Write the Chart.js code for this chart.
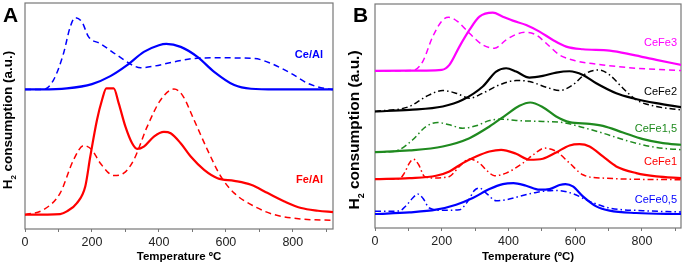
<!DOCTYPE html>
<html>
<head>
<meta charset="utf-8">
<script src="https://cdn.jsdelivr.net/npm/chart.js@4/dist/chart.umd.min.js"></script>
<style>
  html,body{margin:0;padding:0;background:#fff;}
  #wrap{position:relative;width:686px;height:267px;overflow:hidden;}
  .pane{position:absolute;top:0;width:343px;height:267px;}
</style>
</head>
<body>
<div id="wrap">
  <div class="pane" style="left:0"><canvas id="chartA" width="343" height="267"></canvas></div>
  <div class="pane" style="left:343px"><canvas id="chartB" width="343" height="267"></canvas></div>
</div>
<script>
// ---- data: [temperature °C, signal a.u.] ----
const ceAlSolid = [[0,420],[50,420],[125,423],[200,436],[255,460],[305,493],[355,533],[400,553],[422,557],[465,548],[515,518],[565,473],[625,433],[675,422],[750,420],[920,420]];
const ceAlDash = [[0,420],[55,420],[85,448],[115,528],[135,608],[150,636],[170,623],[190,578],[225,558],[275,523],[325,491],[345,485],[385,490],[445,503],[505,513],[575,515],[685,513],[735,498],[795,468],[845,438],[895,423],[920,420]];
const feAlSolid = [[0,43],[105,45],[125,53],[155,78],[180,128],[195,218],[215,328],[230,388],[243,423],[265,423],[280,378],[300,308],[320,258],[335,241],[355,248],[385,278],[415,292],[435,288],[465,258],[495,218],[535,178],[575,153],[625,145],[675,133],[725,108],[775,83],[825,63],[875,55],[920,51]];
const feAlDash = [[0,43],[55,58],[105,108],[145,208],[175,251],[200,238],[225,198],[265,161],[295,168],[325,208],[365,308],[405,388],[445,421],[470,403],[505,328],[545,238],[585,158],[625,108],[685,68],[745,43],[825,30],[920,26]];

const ceFe3Solid = [[0,472],[150,473],[200,475],[223,490],[253,545],[283,595],[313,635],[353,647],[383,635],[413,623],[453,610],[493,590],[533,565],[573,545],[623,537],[703,533],[773,520],[843,505],[918,490]];
const ceFe3Dash = [[0,472],[113,473],[143,500],[173,575],[203,625],[221,633],[248,620],[283,585],[323,550],[358,540],[393,565],[423,582],[453,588],[483,580],[513,555],[553,520],[603,502],[683,490],[783,480],[918,473]];
const ceFe2Solid = [[0,350],[103,355],[203,365],[263,385],[323,425],[363,470],[393,480],[423,470],[463,452],[503,457],[543,467],[583,471],[623,460],[663,435],[723,405],[773,390],[843,375],[918,363]];
const ceFe2DashDot = [[0,350],[103,365],[153,395],[203,413],[243,405],[283,390],[323,405],[373,430],[423,443],[463,440],[513,423],[553,413],[593,430],[633,465],[671,475],[703,460],[743,420],[783,385],[843,365],[918,355]];
const ceFe15Solid = [[0,228],[103,233],[203,245],[283,270],[343,305],[393,340],[433,367],[465,377],[503,363],[543,335],[583,318],[643,313],[683,307],[743,287],[803,267],[863,255],[918,250]];
const ceFe15DashDot = [[0,228],[40,229],[73,235],[113,265],[153,305],[188,317],[223,310],[263,300],[303,307],[343,323],[383,327],[423,323],[503,320],[563,317],[623,302],[683,285],[763,260],[843,242],[918,235]];
const ceFe1Solid = [[0,147],[103,150],[183,157],[223,170],[263,195],[303,215],[343,230],[378,235],[423,223],[463,205],[503,208],[543,227],[583,248],[613,252],[643,245],[683,215],[723,185],[783,165],[843,155],[918,150]];
const ceFe1DashDot = [[0,147],[73,148],[88,165],[103,195],[115,207],[131,190],[148,155],[173,150],[223,155],[253,185],[283,207],[313,195],[333,175],[358,157],[393,165],[443,195],[478,223],[508,240],[543,230],[583,195],[623,160],[683,150],[918,145]];
const ceFe05Solid = [[0,42],[103,47],[183,55],[243,70],[293,90],[343,117],[383,132],[415,135],[453,127],[493,115],[523,117],[553,129],[571,132],[593,125],[623,95],[663,65],[703,52],[783,45],[918,42]];
const ceFe05DashDot = [[0,50],[73,51],[93,67],[113,90],[128,102],[143,90],[163,60],[203,53],[253,55],[278,80],[298,113],[313,120],[333,105],[363,82],[393,85],[433,95],[483,107],[543,113],[593,103],[643,80],[703,60],[803,52],[918,48]];

// series labels: [text, x, y, colour] in data units
const labelsA = [['Ce/Al',890,523,'#0000ff'],['Fe/Al',890,148,'#ff0000']];
const labelsB = [['CeFe3',905,556,'#ff00ff'],['CeFe2',905,409,'#000000'],['CeFe1,5',905,298,'#1f8a1f'],['CeFe1',905,199,'#ff0000'],['CeFe0,5',905,85,'#0000ff']];

const FONT = "'Liberation Sans', Arial, sans-serif";
const DASH = [6,4], DASHDOT = [6,3,1.5,3];

function ds(pts, color, dash){
  return {
    data: pts.map(p=>({x:p[0], y:p[1]})),
    borderColor: color, borderWidth: dash ? 1.5 : 2.2, borderDash: dash || [],
    pointRadius: 0, fill: false, cubicInterpolationMode: 'monotone'
  };
}

// frame, panel letter, y title, series labels
const decor = {
  id: 'decor',
  beforeDatasetsDraw(chart, args, o){
    const {ctx, chartArea:a} = chart;
    ctx.save();
    ctx.strokeStyle = '#777'; ctx.lineWidth = 1.2;
    ctx.strokeRect(a.left, a.top, a.right - a.left, a.bottom - a.top);
    ctx.restore();
  },
  afterDatasetsDraw(chart, args, o){
    const {ctx} = chart, sx = chart.scales.x, sy = chart.scales.y;
    ctx.save();
    ctx.fillStyle = '#000';
    ctx.font = `bold 21px ${FONT}`;
    ctx.textBaseline = 'alphabetic'; ctx.textAlign = 'left';
    ctx.fillText(o.letter, o.letterX, 22);

    // rotated y title with subscript 2
    ctx.translate(o.titleX, o.titleY);
    ctx.rotate(-Math.PI/2);
    ctx.textBaseline = 'middle';
    const big = `bold ${o.titleSize}px ${FONT}`, small = `bold ${Math.round(o.titleSize*0.6)}px ${FONT}`;
    ctx.font = big; const wH = ctx.measureText('H').width;
    ctx.font = small; const w2 = ctx.measureText('2').width;
    ctx.font = big; const rest = ' consumption (a.u.)'; const wR = ctx.measureText(rest).width;
    let x0 = -(wH + w2 + wR)/2;
    ctx.fillText('H', x0, 0);
    ctx.font = small; ctx.fillText('2', x0 + wH, o.titleSize*0.4);
    ctx.font = big; ctx.fillText(rest, x0 + wH + w2, 0);
    ctx.setTransform(1,0,0,1,0,0);

    ctx.textAlign = 'right'; ctx.textBaseline = 'middle';
    ctx.font = `${o.labelWeight} 11px ${FONT}`;
    o.labels.forEach(([t,x,y,c])=>{
      ctx.fillStyle = c;
      ctx.fillText(t, sx.getPixelForValue(x), sy.getPixelForValue(y));
    });
    ctx.restore();
  }
};

function makeChart(id, datasets, cfg){
  return new Chart(document.getElementById(id), {
    type: 'line',
    data: { datasets },
    plugins: [decor],
    options: {
      responsive: false, animation: false, devicePixelRatio: 1,
      layout: { padding: cfg.padding },
      plugins: { legend: {display:false}, tooltip: {enabled:false}, decor: cfg.decor },
      scales: {
        x: {
          type: 'linear', min: 0, max: cfg.xMax,
          afterFit: s => { s.height = cfg.xHeight; },
          border: { display: false },
          grid: { display: true, drawOnChartArea: false, drawTicks: true, tickLength: 3, color: '#777', lineWidth: 1 },
          ticks: { stepSize: 100, includeBounds: false, autoSkip: false, maxRotation: 0, padding: 3,
            color: '#222', font: { family: FONT, size: 12.5 },
            callback: v => (v % 200 === 0 ? v : '') },
          title: { display: true, text: cfg.xTitle, color: '#000',
            font: { family: FONT, size: cfg.xTitleSize, weight: 'bold' }, padding: { top: 0, bottom: 3 } }
        },
        y: { display: false, min: 0, max: cfg.yMax }
      }
    }
  });
}

makeChart('chartA', [
  ds(ceAlDash, '#0000ff', DASH), ds(ceAlSolid, '#0000ff'),
  ds(feAlDash, '#ff0000', DASH), ds(feAlSolid, '#ff0000')
], {
  padding: { left: 25, right: 10, top: 3, bottom: 0 }, xHeight: 38, xMax: 920, yMax: 680,
  xTitle: 'Temperature ºC', xTitleSize: 11.5,
  decor: { letter: 'A', letterX: 3, titleX: 8, titleY: 120, titleSize: 13.5, labels: labelsA, labelWeight: 'bold' }
});

makeChart('chartB', [
  ds(ceFe3Dash, '#ff00ff', DASH), ds(ceFe3Solid, '#ff00ff'),
  ds(ceFe2DashDot, '#000000', DASHDOT), ds(ceFe2Solid, '#000000'),
  ds(ceFe15DashDot, '#1f8a1f', DASHDOT), ds(ceFe15Solid, '#1f8a1f'),
  ds(ceFe1DashDot, '#ff0000', DASHDOT), ds(ceFe1Solid, '#ff0000'),
  ds(ceFe05DashDot, '#0000ff', DASHDOT), ds(ceFe05Solid, '#0000ff')
], {
  padding: { left: 32, right: 5, top: 4, bottom: 0 }, xHeight: 39, xMax: 917, yMax: 673,
  xTitle: 'Temperature (ºC)', xTitleSize: 11.5,
  decor: { letter: 'B', letterX: 10, titleX: 12, titleY: 130, titleSize: 15.5, labels: labelsB, labelWeight: 'normal' }
});
</script>
</body>
</html>
